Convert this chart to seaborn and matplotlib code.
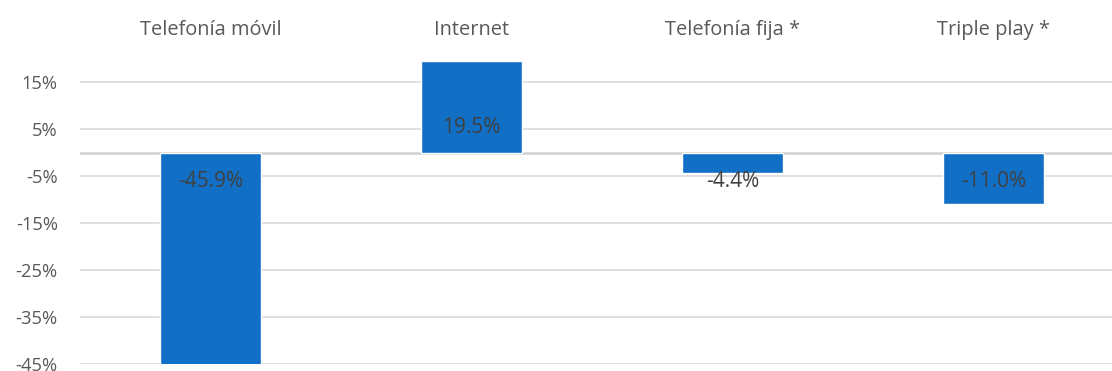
import matplotlib
matplotlib.use("Agg")
import matplotlib.pyplot as plt
import seaborn as sns
import pandas as pd
from matplotlib.ticker import FuncFormatter

categories = ["Telefonía móvil", "Internet", "Telefonía fija *", "Triple play *"]
values = [-45.9, 19.5, -4.4, -11.0]
yticks = [15, 5, -5, -15, -25, -35, -45]

df = pd.DataFrame({"servicio": categories, "variacion": values})

sns.set_theme(style="white")
plt.rcParams["font.family"] = ["Open Sans", "DejaVu Sans"]

W, H = 1112, 371
fig = plt.figure(figsize=(W / 100, H / 100), dpi=100)
# plot area: x from 80 px, 261 px per category; y from -45% (364 px) to 20% (59 px)
left, slot = 80, 261
ax = fig.add_axes([left / W, (H - 364) / H, 4 * slot / W, (364 - 59) / H])

sns.barplot(data=df, x="servicio", y="variacion", color="#1170c6",
            width=0.39, saturation=1, ax=ax, zorder=3)

ax.set_ylim(-45, 20)
ax.set_xlim(-0.5, 3.5)
ax.set_yticks(yticks)
ax.yaxis.set_major_formatter(FuncFormatter(lambda v, p: f"{v:.0f}%"))
ax.grid(axis="y", color="#d9d9d9", linewidth=1.2, zorder=0)
ax.axhline(0, color="#d0d0d0", linewidth=1.8, zorder=1)
for s in ax.spines.values():
    s.set_visible(False)

ax.tick_params(axis="y", length=0, pad=16, labelsize=13.2, labelcolor="#595959")
ax.xaxis.tick_top()
ax.tick_params(axis="x", length=0, pad=14, labelsize=14.4, labelcolor="#595959")
ax.set_xlabel("")
ax.set_ylabel("")

# value labels placed at the inside base of each bar
for i, v in enumerate(values):
    ypos = 5.3 if v > 0 else -6.2
    ax.text(i, ypos, f"{v:.1f}%", ha="center", va="center",
            fontsize=15, color="#404040", zorder=4)

fig.savefig("out.png", dpi=100)
